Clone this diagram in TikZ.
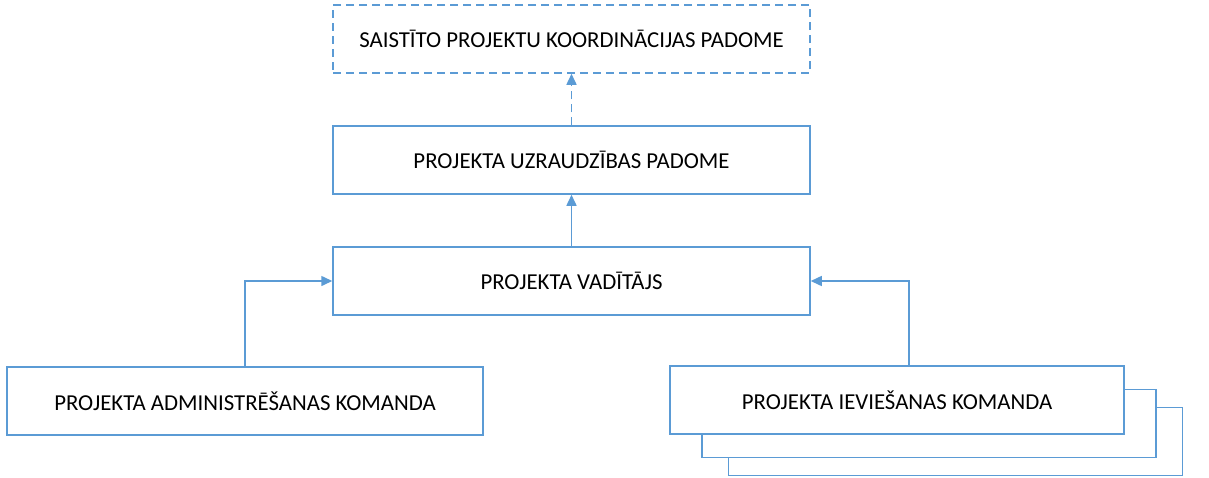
\documentclass[tikz,border=0pt]{standalone}
\usepackage{fontspec}
\setmainfont{Carlito}
\usetikzlibrary{arrows.meta}
\definecolor{boxblue}{HTML}{5B9BD5}

\tikzset{
  box/.style={draw=boxblue, line width=1.5pt, fill=white, inner sep=0pt,
    minimum width=477pt, minimum height=68pt, font=\fontsize{22.8}{26}\selectfont},
  teambox/.style={box, minimum width=454pt},
  link/.style={draw=boxblue, line width=1.5pt, -{Triangle[width=10pt,length=11pt]}}
}

\begin{document}
\begin{tikzpicture}[x=1pt,y=-1pt]
      \useasboundingbox (0,0) rectangle (1209,477);
      % board levels
      \node [box, dash pattern=on 8pt off 5pt] (koord) at (571.5,39) {SAISTĪTO PROJEKTU KOORDINĀCIJAS PADOME};
      \node [box] (uzr) at (571.5,160) {PROJEKTA UZRAUDZĪBAS PADOME};
      \node [box] (vad) at (571.5,281) {PROJEKTA VADĪTĀJS};
      % teams
      \node [box, minimum width=476pt] (admin) at (245,401) {PROJEKTA ADMINISTRĒŠANAS KOMANDA};
      \node [teambox] (iev3) at (955.5,441.5) {};
      \node [teambox] (iev2) at (929,423.5) {};
      \node [teambox] (iev) at (897,400) {PROJEKTA IEVIEŠANAS KOMANDA};
      % links
      \draw [link, dash pattern=on 8pt off 5pt] (uzr.north) -- (koord.south);
      \draw [link] (vad.north) -- (uzr.south);
      \draw [link] (admin.north) |- (vad.west);
      \draw [link] ([xshift=12pt]iev.north) |- (vad.east);
\end{tikzpicture}
\end{document}
